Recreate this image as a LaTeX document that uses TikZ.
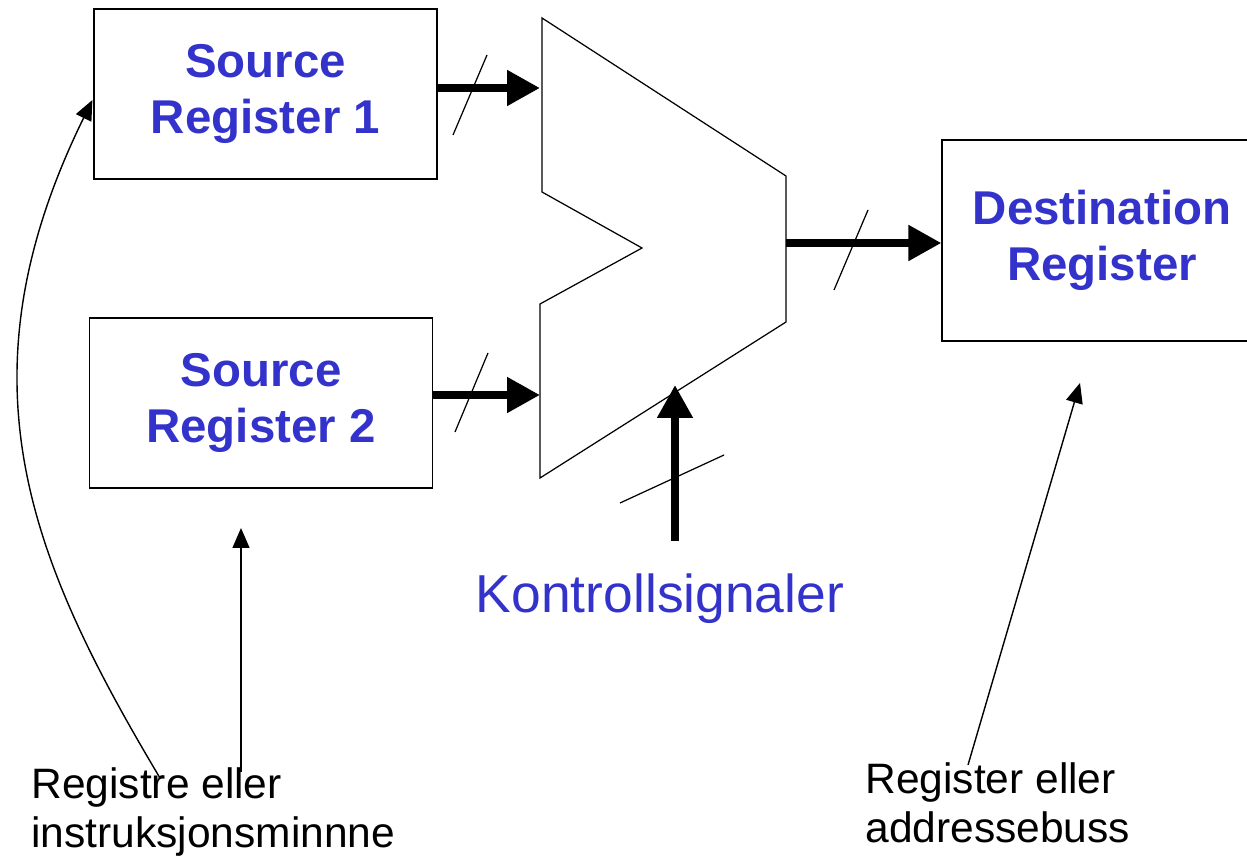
\documentclass[tikz,border=0pt]{standalone}
\usepackage{fontspec}
\setmainfont{Liberation Sans}
\usepackage{xcolor}
\usetikzlibrary{arrows.meta,positioning,calc}
\definecolor{regblue}{RGB}{51,51,204}
\tikzset{
  reg/.style={rectangle, draw, line width=0.7pt, inner sep=0pt,
              minimum width=6.86cm, minimum height=3.4cm, align=center,
              text=regblue, font=\bfseries\fontsize{27}{31.8}\selectfont},
  bus/.style={-{Triangle[length=6.6mm,width=6.8mm]}, line width=4.5pt},
  ptr/.style={-{Triangle[length=4mm,width=3.4mm]}, line width=0.8pt},
  buswidth/.style={line width=0.7pt},
  lbl/.style={inner sep=0pt, align=left, anchor=north west,
              font=\fontsize{24.2}{27.8}\selectfont}
}

\begin{document}
\begin{tikzpicture}[x=0.02cm,y=-0.02cm]
\useasboundingbox (0,0) rectangle (1247,861);
\node[reg] (src1) at (265.5,94) {Source\\Register 1};
\node[reg] (src2) at (261,403) {Source\\Register 2};
\node[reg, minimum width=6.4cm, minimum height=4.02cm] (dst) at (1102,240.5) {Destination\\Register};
% ALU
\draw[line width=0.7pt] (542,18) -- (786,176) -- (786,322) -- (540,478)
  -- (540,304) -- (642,248) -- (542,192) -- cycle;
\coordinate (in1) at (540,88);
\coordinate (in2) at (540,395);
\coordinate (out) at (786,243);
\coordinate (ctl) at (675,385);
\coordinate (ctlfoot) at (675,541);
\node[text=regblue, font=\fontsize{30.4}{36}\selectfont, inner sep=0pt, anchor=base] (ctrl) at (660,612) {Kontrollsignaler};
\node[lbl] (lblsrc) at (31,767) {Registre eller\\instruksjonsminnne};
\node[lbl] (lbldst) at (865,762) {Register eller\\addressebuss};
\draw[bus] (src1.east |- in1) -- (in1);
\draw[bus] (src2.east |- in2) -- (in2);
\draw[bus] (out) -- (dst.west |- out);
\draw[bus] (ctlfoot) -- (ctl);
\draw[buswidth] (453,135) -- (487,55);
\draw[buswidth] (455,432) -- (488,353);
\draw[buswidth] (834,290) -- (868,210);
\draw[buswidth] (620,503) -- (724,455);
\coordinate (p2) at (241,528);
\coordinate (p3) at (1080,383);
\draw[ptr] ($(lblsrc.north west)+(129,11)$) .. controls (30,560) and (-45,380) .. ($(src1.west)+(-1,6)$);
\draw[ptr] ($(lblsrc.north west)+(210,5)$) -- (p2);
\draw[ptr] ($(lbldst.north west)+(103,3)$) -- (p3);
\end{tikzpicture}
\end{document}
